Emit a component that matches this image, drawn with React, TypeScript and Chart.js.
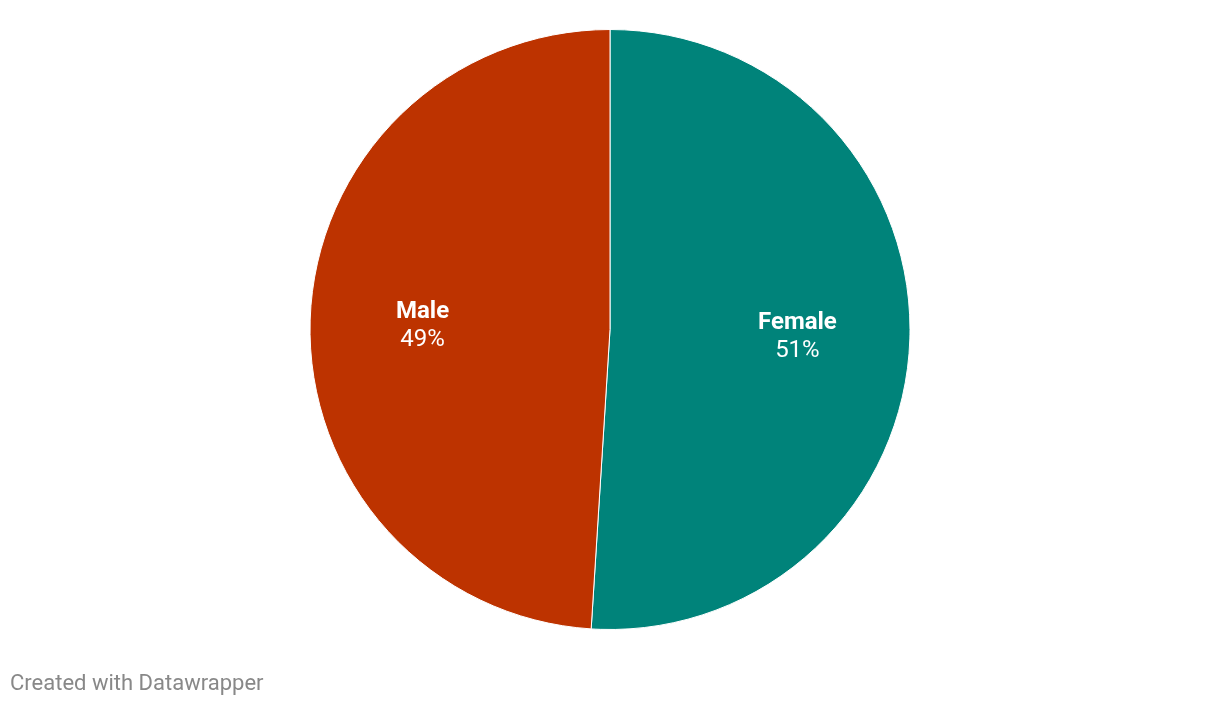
import React, { useEffect, useRef } from "react";
import { Chart, registerables } from "chart.js";

Chart.register(...registerables);

const categories = ["Female", "Male"];
const values = [51, 49];
const colors = ["#00837a", "#bd3300"];

const labelPlugin = {
  id: "sliceLabels",
  afterDatasetsDraw(chart: any) {
    const ctx = chart.ctx;
    const meta = chart.getDatasetMeta(0);
    const total = values.reduce((a, b) => a + b, 0);
    meta.data.forEach((arc: any, i: number) => {
      const { x, y, startAngle, endAngle, outerRadius } = arc.getProps(
        ["x", "y", "startAngle", "endAngle", "outerRadius"],
        true
      );
      const mid = (startAngle + endAngle) / 2;
      const r = outerRadius * 0.625;
      const cx = x + Math.cos(mid) * r;
      const cy = y + Math.sin(mid) * r;
      ctx.save();
      ctx.fillStyle = "#ffffff";
      ctx.textAlign = "center";
      ctx.textBaseline = "middle";
      ctx.font = "bold 24px Roboto";
      ctx.fillText(categories[i], cx, cy - 12);
      ctx.font = "24px Roboto";
      ctx.fillText(Math.round((values[i] / total) * 100) + "%", cx, cy + 16);
      ctx.restore();
    });
  },
};

export default function App() {
  const ref = useRef<HTMLCanvasElement>(null);
  useEffect(() => {
    if (!ref.current) return;
    const chart = new Chart(ref.current, {
      type: "pie",
      data: {
        labels: categories,
        datasets: [
          {
            data: values,
            backgroundColor: colors,
            borderColor: "#ffffff",
            borderWidth: 1,
          },
        ],
      },
      options: {
        animation: false,
        responsive: false,
        maintainAspectRatio: false,
        layout: { padding: { top: 29, bottom: 76, left: 0, right: 0 } },
        plugins: {
          legend: { display: false },
          tooltip: { enabled: false },
        },
      },
      plugins: [labelPlugin],
    });
    return () => chart.destroy();
  }, []);
  return (
    <div
      style={{
        position: "fixed",
        left: 0,
        top: 0,
        width: 1220,
        height: 706,
        background: "#ffffff",
      }}
    >
      <canvas ref={ref} width={1220} height={706} style={{ display: "block" }} />
      <div
        style={{
          position: "absolute",
          left: 10,
          top: 670,
          fontFamily: "Roboto",
          fontSize: 22,
          color: "#888888",
          whiteSpace: "nowrap",
          lineHeight: "26px",
        }}
      >
        Created with Datawrapper
      </div>
    </div>
  );
}
